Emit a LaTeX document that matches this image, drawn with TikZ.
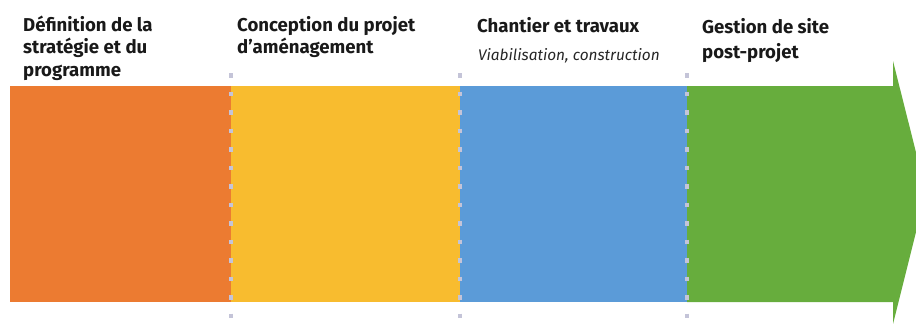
\documentclass[tikz,border=0pt]{standalone}
\usepackage{fontspec}
\setmainfont{Fira Sans}
\begin{document}
\begin{tikzpicture}[x=1pt,y=-1pt,
  phase/.style={inner sep=0pt, outer sep=0pt, minimum height=216pt, anchor=north west},
  title/.style={font=\bfseries\fontsize{18.6}{18.6}\selectfont, anchor=base west, inner sep=0pt, text=black!90},
  sub/.style={font=\itshape\fontsize{15.4}{15.4}\selectfont, anchor=base west, inner sep=0pt, text=black!85},
  sep/.style={draw=sepgray, line width=4.5pt, dash pattern=on 4.5pt off 14pt}
]
\definecolor{orangephase}{HTML}{EC7B31}
\definecolor{yellowphase}{HTML}{F8BC2F}
\definecolor{bluephase}{HTML}{5B9BD8}
\definecolor{greenphase}{HTML}{67AD3D}
\definecolor{sepgray}{HTML}{C4C4D8}
\useasboundingbox (0,0) rectangle (916,324);
\clip (0,0) rectangle (916,324);

% phase bars
\node[phase, fill=orangephase, minimum width=221pt] (p1) at (10,86) {};
\node[phase, fill=yellowphase, minimum width=229pt] (p2) at (231,86) {};
\node[phase, fill=bluephase, minimum width=227pt] (p3) at (460,86) {};
% last phase ends in an arrow head
\fill[greenphase] (687,86) coordinate (p4) -- (893,86) -- (893,61) -- (926,192) -- (893,324) -- (893,302) -- (687,302) -- cycle;

% dotted separators between phases
\coordinate (s1t) at (231,73); \coordinate (s1b) at (231,322);
\coordinate (s2t) at (460,73); \coordinate (s2b) at (460,322);
\coordinate (s3t) at (687,73); \coordinate (s3b) at (687,322);
\draw[sep] (s1t) -- (s1b);
\draw[sep] (s2t) -- (s2b);
\draw[sep] (s3t) -- (s3b);

% phase titles
\node[title] (t1a) at (23,31) {Définition de la};
\node[title] (t1b) at (23,53.5) {stratégie et du};
\node[title] (t1c) at (23,76) {programme};
\node[title] (t2a) at (237,31) {Conception du projet};
\node[title] (t2b) at (237,53.5) {d’aménagement};
\node[title] (t3a) at (477,32) {Chantier et travaux};
\node[sub] (t3b) at (478,60) {Viabilisation, construction};
\node[title] (t4a) at (702,33) {Gestion de site};
\node[title] (t4b) at (702,58) {post-projet};
\end{tikzpicture}
\end{document}
